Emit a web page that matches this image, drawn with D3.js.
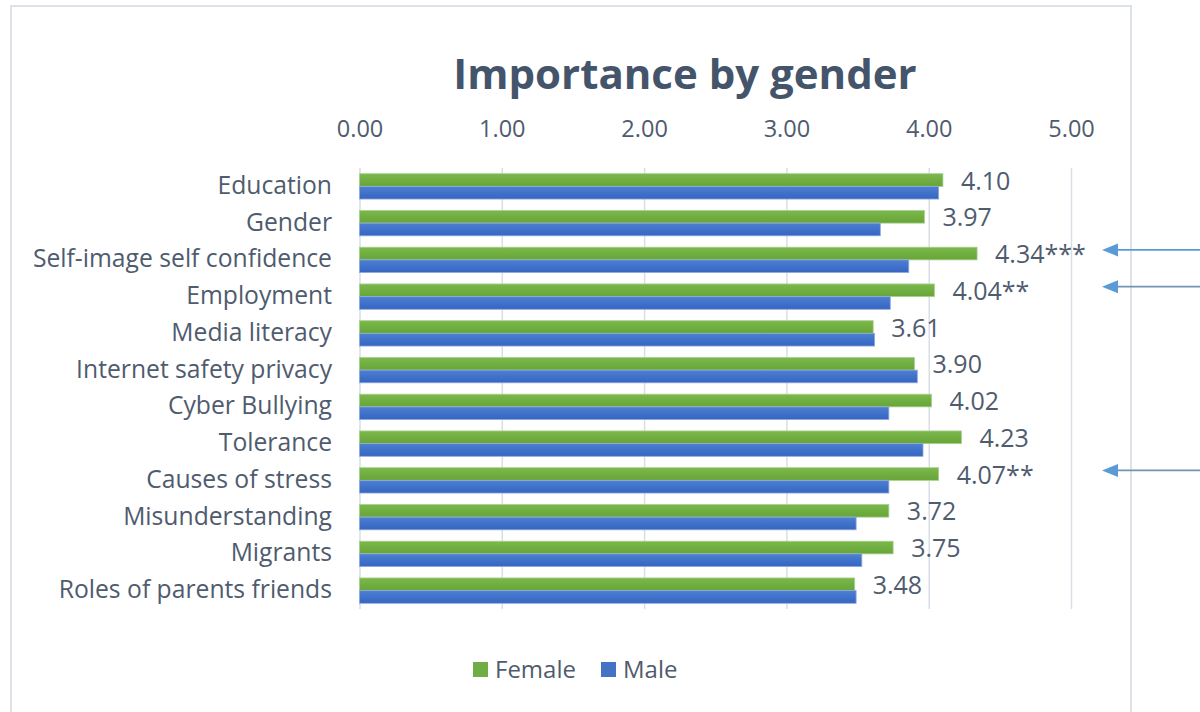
<!DOCTYPE html>
<html>
<head>
<meta charset="utf-8">
<script src="https://cdn.jsdelivr.net/npm/d3@7"></script>
<style>
  html, body { margin: 0; padding: 0; background: #fff; }
  svg { display: block; font-family: "Open Sans", "Noto Sans", sans-serif; }
</style>
</head>
<body>
<svg id="chart" width="1200" height="712"></svg>
<script>
const categories = ["Education", "Gender", "Self-image self confidence", "Employment", "Media literacy",
  "Internet safety privacy", "Cyber Bullying", "Tolerance", "Causes of stress", "Misunderstanding",
  "Migrants", "Roles of parents friends"];
const femaleValues = [4.10, 3.97, 4.34, 4.04, 3.61, 3.90, 4.02, 4.23, 4.07, 3.72, 3.75, 3.48];
const maleValues   = [4.07, 3.66, 3.86, 3.73, 3.62, 3.92, 3.72, 3.96, 3.72, 3.49, 3.53, 3.49];
const femaleLabels = ["4.10", "3.97", "4.34***", "4.04**", "3.61", "3.90", "4.02", "4.23", "4.07**", "3.72", "3.75", "3.48"];
const seriesNames = ["Female", "Male"];
const tickValues = [0, 1, 2, 3, 4, 5];
const arrowCategories = ["Self-image self confidence", "Employment", "Causes of stress"];

const svg = d3.select("#chart");
const textColor = "#4f5b6e";

// gradients
const defs = svg.append("defs");
function grad(id, c1, c2) {
  const g = defs.append("linearGradient").attr("id", id).attr("x1", 0).attr("y1", 0).attr("x2", 0).attr("y2", 1);
  g.append("stop").attr("offset", "0%").attr("stop-color", c1);
  g.append("stop").attr("offset", "100%").attr("stop-color", c2);
}
grad("gF", "#7cb84c", "#67a538");
grad("gM", "#4d7fd2", "#3565c1");
const fills = { Female: "url(#gF)", Male: "url(#gM)" };
const legendColors = { Female: "#70ad47", Male: "#4472c4" };

// chart border
svg.append("rect").attr("x", 11).attr("y", 6).attr("width", 1120).attr("height", 730)
  .attr("fill", "none").attr("stroke", "#dde2e8").attr("stroke-width", 2);

// title
svg.append("text").attr("x", 685).attr("y", 89).attr("text-anchor", "middle")
  .attr("font-size", 42).attr("font-weight", "bold").attr("fill", "#44546a")
  .text("Importance by gender");

const plotTop = 168, plotBottom = 609;
const x = d3.scaleLinear().domain([0, 5]).range([359.5, 1071]);
const y = d3.scaleBand().domain(categories).range([plotTop, plotBottom]).paddingInner(0.31).paddingOuter(0.155);
const ys = d3.scaleBand().domain(seriesNames).range([0, y.bandwidth()]);

// axis + grid
const axis = svg.append("g").attr("transform", `translate(0,${plotTop})`)
  .call(d3.axisTop(x).tickValues(tickValues).tickFormat(d3.format(".2f")).tickSize(-(plotBottom - plotTop)).tickPadding(31));
axis.select(".domain").remove();
axis.selectAll(".tick line").attr("stroke", "#d9dee6").attr("stroke-width", 1.5);
axis.selectAll(".tick text").attr("fill", textColor).attr("font-size", 23.5).attr("font-family", "Open Sans");

// category labels
svg.append("g").selectAll("text").data(categories).join("text")
  .attr("x", 332).attr("y", d => y(d) + y.bandwidth() / 2 - 2)
  .attr("text-anchor", "end").attr("dominant-baseline", "central")
  .attr("font-size", 24.7).attr("fill", textColor).text(d => d);

// bars
const rows = categories.map((c, i) => ({ c, i, vals: [{ s: "Female", v: femaleValues[i] }, { s: "Male", v: maleValues[i] }] }));
const g = svg.append("g").selectAll("g").data(rows).join("g")
  .attr("transform", d => `translate(0,${y(d.c)})`);
g.selectAll("rect").data(d => d.vals).join("rect")
  .attr("x", x(0)).attr("y", d => ys(d.s)).attr("height", ys.bandwidth())
  .attr("width", d => x(d.v) - x(0)).attr("fill", d => fills[d.s])
  .attr("stroke", d => d.s === "Female" ? "#a9d18e" : "#8faadc").attr("stroke-width", 0.8);

// value labels (female)
g.append("text")
  .attr("x", d => x(femaleValues[d.i]) + 18)
  .attr("y", d => ys("Female") + ys.bandwidth() / 2 - 0.5)
  .attr("dominant-baseline", "central").attr("font-size", 25).attr("fill", textColor)
  .text(d => femaleLabels[d.i]);

// arrows
const arrowColors = ["#5b9bd5", "#7592b3", "#7592b3"];
arrowCategories.forEach((c, k) => {
  const yy = y(c) + y.bandwidth() / 2 - 10;
  svg.append("line").attr("x1", 1115).attr("x2", 1200).attr("y1", yy).attr("y2", yy)
    .attr("stroke", arrowColors[k]).attr("stroke-width", 1.6);
  svg.append("path").attr("d", `M1102,${yy} L1118,${yy - 6.5} L1118,${yy + 6.5} Z`).attr("fill", "#5b9bd5");
});

// legend
const legend = svg.append("g");
const lx = [473, 601];
seriesNames.forEach((s, i) => {
  legend.append("rect").attr("x", lx[i]).attr("y", 662).attr("width", 15).attr("height", 15).attr("fill", legendColors[s]);
  legend.append("text").attr("x", lx[i] + 22).attr("y", 668.5).attr("dominant-baseline", "central")
    .attr("font-size", 24).attr("fill", textColor).text(s);
});
</script>
</body>
</html>
